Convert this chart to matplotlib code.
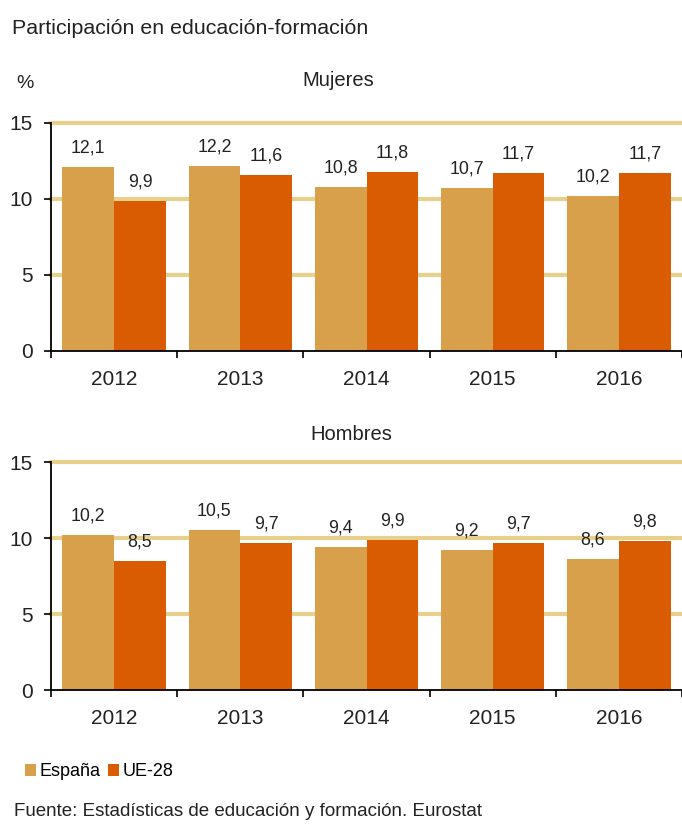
import matplotlib.pyplot as plt
import numpy as np

years = ['2012', '2013', '2014', '2015', '2016']
mujeres_espana = [12.1, 12.2, 10.8, 10.7, 10.2]
mujeres_ue = [9.9, 11.6, 11.8, 11.7, 11.7]
hombres_espana = [10.2, 10.5, 9.4, 9.2, 8.6]
hombres_ue = [8.5, 9.7, 9.9, 9.7, 9.8]

c_esp = '#D9A04C'
c_ue = '#D95C02'
c_grid = '#E7D08C'
c_txt = '#222222'

plt.rcParams['font.family'] = ['Liberation Sans', 'DejaVu Sans']

fig = plt.figure(figsize=(6.82, 8.24), dpi=100)
W, H = 682, 824


def make_ax(top, bottom):
    return fig.add_axes([51 / W, 1 - bottom / H, 631 / W, (bottom - top) / H])


def fmt(v):
    return f'{v:.1f}'.replace('.', ',')


def draw(ax, esp, ue):
    x = np.arange(len(years))
    w = 0.41
    for yv in [5, 10, 15]:
        ax.axhline(yv, color=c_grid, lw=3, zorder=0, clip_on=False)
    ax.bar(x - w / 2, esp, w, color=c_esp, zorder=2, label='España')
    ax.bar(x + w / 2, ue, w, color=c_ue, zorder=2, label='UE-28')
    for xi, v in zip(x - w / 2, esp):
        ax.text(xi, v + 1.25, fmt(v), ha='center', va='center', fontsize=12.8, color=c_txt, zorder=3)
    for xi, v in zip(x + w / 2, ue):
        ax.text(xi, v + 1.25, fmt(v), ha='center', va='center', fontsize=12.8, color=c_txt, zorder=3)
    ax.set_xlim(-0.5, 4.5)
    ax.set_ylim(0, 15)
    ax.set_yticks([0, 5, 10, 15])
    ax.set_xticks(np.arange(-0.5, 5, 1))
    ax.set_xticklabels([])
    ax.set_xticks(x, minor=True)
    ax.set_xticklabels(years, minor=True, fontsize=15, color=c_txt)
    ax.tick_params(axis='x', which='minor', length=0, pad=14)
    ax.tick_params(axis='x', which='major', length=5, width=1.2)
    ax.tick_params(axis='y', length=5, width=1.2, labelsize=15, labelcolor=c_txt, pad=8)
    for s in ['top', 'right']:
        ax.spines[s].set_visible(False)
    ax.spines['left'].set_linewidth(1.3)
    ax.spines['bottom'].set_linewidth(1.3)


ax1 = make_ax(123, 351)
draw(ax1, mujeres_espana, mujeres_ue)
ax2 = make_ax(462, 690)
draw(ax2, hombres_espana, hombres_ue)

fig.text(338 / W, 1 - 80 / H, 'Mujeres', fontsize=14.5, ha='center', va='center', color=c_txt)
fig.text(351 / W, 1 - 434 / H, 'Hombres', fontsize=14.5, ha='center', va='center', color=c_txt)

fig.text(12 / W, 1 - 28 / H, 'Participación en educación-formación', fontsize=15.4, va='center', color=c_txt)
fig.text(16 / W, 1 - 83 / H, '%', fontsize=14, va='center', color=c_txt)

handles, labels = ax1.get_legend_handles_labels()
fig.legend(handles, labels, loc='center left', bbox_to_anchor=(9 / W, 1 - 772 / H), frameon=False,
           ncol=2, fontsize=13, handlelength=0.6, handleheight=0.6, handletextpad=0.2, columnspacing=0.4)

fig.text(14 / W, 1 - 812 / H, 'Fuente: Estadísticas de educación y formación. Eurostat', fontsize=13.5, va='center', color=c_txt)

fig.savefig('out.png', dpi=100)
